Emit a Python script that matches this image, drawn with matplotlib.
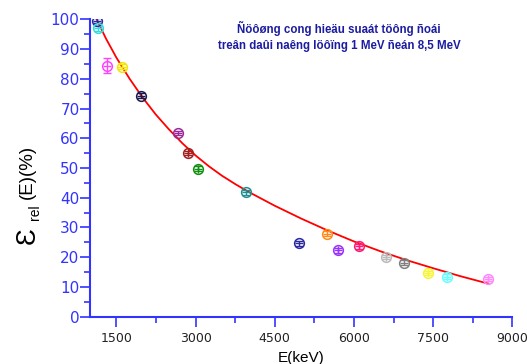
import matplotlib
matplotlib.use("Agg")
import matplotlib.pyplot as plt

# Measured points (keV, relative efficiency %)
energy = [1127, 1145, 1315, 1600, 1958, 2670, 2853, 3048, 3962, 4957,
          5493, 5700, 6091, 6607, 6955, 7395, 7767, 8548]
eff = [99.5, 97.0, 84.4, 84.0, 74.3, 61.8, 55.0, 49.8, 41.8, 24.7,
       27.9, 22.3, 23.6, 20.1, 18.2, 14.7, 13.5, 12.7]
eff_err = [0.8, 0.8, 2.5, 0.8, 0.8, 0.8, 0.8, 0.8, 0.8, 0.8,
           0.8, 0.8, 0.8, 0.8, 0.8, 0.8, 0.8, 0.8]
point_colors = ['#2a2aa0', '#33dddd', '#ff44ff', '#f2e600', '#1a1a50', '#9a2a9a',
                '#a02020', '#109010', '#209090', '#2a2aa0', '#ff8c1a', '#9933ff',
                '#ff1a75', '#bbbbbb', '#808080', '#f5f533', '#66ffff', '#ff88ff']
inner_mark = ['_', '_', '_', '_', '_', '_', '+', '+', '_', '_',
              '_', '+', '+', '+', '_', '+', '+', '+']

# Fitted curve
fit_energy = [1127, 1300, 1500, 1750, 2000, 2250, 2500, 2750, 3000, 3250, 3500,
              3750, 4000, 4500, 5000, 5500, 6000, 6500, 7000, 7500, 8000, 8548]
fit_eff = [100, 93.6, 87.1, 80.0, 73.6, 67.9, 62.9, 58.3, 54.2, 50.6, 47.4,
           44.6, 42.0, 37.3, 33.0, 29.0, 25.3, 22.0, 19.0, 16.3, 13.7, 11.1]

x_ticks = [1500, 3000, 4500, 6000, 7500, 9000]
y_ticks = [0, 10, 20, 30, 40, 50, 60, 70, 80, 90, 100]

title_lines = ["Ñöôøng cong hieäu suaát töông ñoái",
               "treân daûi naêng löôïng 1 MeV ñeán 8,5 MeV"]

blue = '#3333ff'
W, H = 527, 364
fig = plt.figure(figsize=(W / 100, H / 100), dpi=100)
ax = fig.add_axes([0.1708, 0.130, 0.8013, 0.817])

ax.plot(fit_energy, fit_eff, color='#ff0000', lw=1.3, zorder=3)

for e, v, err, c, m in zip(energy, eff, eff_err, point_colors, inner_mark):
    ax.errorbar([e], [v], yerr=[err], fmt='none', ecolor=c, elinewidth=1,
                capsize=3, zorder=4)
    ax.plot([e], [v], marker='o', ms=7, mfc='none', mec=c, mew=1.1,
            ls='none', zorder=5)
    ax.plot([e], [v], marker=m, ms=6, mec=c, mew=1.0, ls='none', zorder=5)

ax.set_xlim(1000, 9000)
ax.set_ylim(0, 100)
ax.set_xticks(x_ticks)
ax.set_xticks([2250, 3750, 5250, 6750, 8250], minor=True)
ax.set_yticks(y_ticks)
ax.set_yticks([5, 15, 25, 35, 45, 55, 65, 75, 85, 95], minor=True)

for s in ['top', 'right']:
    ax.spines[s].set_visible(False)
for s in ['left', 'bottom']:
    ax.spines[s].set_color(blue)
    ax.spines[s].set_linewidth(1.5)

ax.tick_params(axis='both', which='major', direction='out', color=blue,
               width=1.2, length=7)
ax.tick_params(axis='both', which='minor', direction='out', color=blue,
               width=1.2, length=4)
ax.tick_params(axis='y', labelcolor=blue, labelsize=11, pad=0.5)
ax.tick_params(axis='x', labelcolor='#222222', labelsize=9, pad=4)
for lab in ax.get_yticklabels():
    lab.set_fontfamily('DejaVu Sans')
for lab in ax.get_xticklabels():
    lab.set_fontfamily('DejaVu Sans')

ax.set_xlabel('E(keV)', fontsize=11, family='Liberation Sans', labelpad=4)

# y-axis label: large epsilon with subscript, then (E)(%)
fig.text(28 / W, 1 - 236 / H, 'Ɛ', rotation=90, fontsize=20,
         family='Liberation Sans', ha='center', va='center')
fig.text(35 / W, 1 - 212 / H, 'rel', rotation=90, fontsize=10,
         family='Liberation Sans', ha='center', va='center')
fig.text(27 / W, 1 - 172 / H, '(E)(%)', rotation=90, fontsize=13.5,
         family='Liberation Sans', ha='center', va='center')

fig.text(0.643, 0.923, title_lines[0], ha='center', va='center',
         fontsize=8.3, fontweight='bold', color='#1c1ca0',
         family='Liberation Sans')
fig.text(0.643, 0.873, title_lines[1], ha='center', va='center',
         fontsize=8.3, fontweight='bold', color='#1c1ca0',
         family='Liberation Sans')

fig.savefig('out.png', dpi=100)
